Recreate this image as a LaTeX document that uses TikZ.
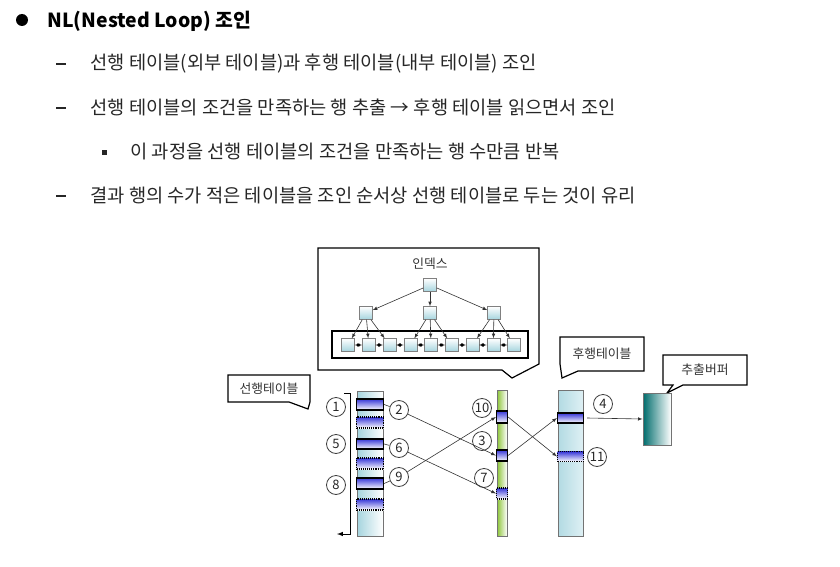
\documentclass[tikz,border=0pt]{standalone}
\usepackage{fontspec}
\setmainfont{Noto Sans CJK KR}
\definecolor{azzurro}{RGB}{165,212,222}
\definecolor{azzurrino}{RGB}{222,240,244}
\definecolor{lime}{RGB}{140,196,55}
\definecolor{blu}{RGB}{55,55,215}

\begin{document}
\begin{tikzpicture}[x=1pt,y=-1pt,
    testo/.style={anchor=base west, font=\fontsize{18.7}{22}\selectfont, text=black!85},
    etichetta/.style={font=\fontsize{12.8}{14}\selectfont, text=black!80},
    colonna/.style={draw=black!55, line width=0.8pt, inner sep=0pt},
    riga/.style={draw=black, line width=1.3pt, inner sep=0pt, top color=blu, bottom color=white},
    rigapunti/.style={draw=black, densely dotted, line width=1.1pt, inner sep=0pt, top color=blu, bottom color=white},
    num/.style={circle, draw=black!75, line width=0.8pt, inner sep=0pt, minimum size=19, font=\fontsize{13}{14}\selectfont, text=black!85},
    foglia/.style={draw=black!50, inner sep=0pt, minimum size=13, top color=white, bottom color=azzurro},
    freccia/.style={-latex, black!80, line width=0.6pt},
    fumetto/.style={draw=black, line width=1.2pt, fill=white}]
    \useasboundingbox (0,0) rectangle (840,567);
    %elenco
    \fill (22,20) circle (6);
    \node[testo, font=\bfseries\fontsize{19.4}{22}\selectfont, text=black] (titolo) at (44,28) {NL(Nested Loop) 조인};
    \foreach \y in {64,108,196} { \draw[line width=1.1pt, black!85] (56,\y) -- (66,\y); }
    \fill[black!85] (102,149.5) rectangle (107,154.5);
    \node[testo] (riga1) at (87,70) {선행 테이블(외부 테이블)과 후행 테이블(내부 테이블) 조인};
    \node[testo] (riga2) at (87,114) {선행 테이블의 조건을 만족하는 행 추출 → 후행 테이블 읽으면서 조인};
    \node[testo] (riga3) at (127,158) {이 과정을 선행 테이블의 조건을 만족하는 행 수만큼 반복};
    \node[testo] (riga4) at (87,202) {결과 행의 수가 적은 테이블을 조인 순서상 선행 테이블로 두는 것이 유리};

    %fumetti
    \draw[fumetto] (318,248) -- (539,248) -- (539,364) -- (512,378) -- (502,370) -- (318,370) -- cycle;
    \node[etichetta] (tindice) at (430,264) {인덱스};
    \draw[fumetto] (228,375) -- (310,375) -- (310,402) -- (308,409) -- (289,402) -- (228,402) -- cycle;
    \node[etichetta] (tsel) at (269,389) {선행테이블};
    \draw[fumetto] (560,337) -- (644,337) -- (644,371) -- (578,371) -- (562,378) -- (560,364) -- cycle;
    \node[etichetta] (tinn) at (602,354) {후행테이블};
    \draw[fumetto] (663,355) -- (747,355) -- (747,385) -- (683,385) -- (667,393) -- (673,385) -- (663,385) -- cycle;
    \node[etichetta] (tbuf) at (705,370) {추출버퍼};

    %albero indice
    \node[draw, line width=1.2pt, inner sep=0pt, minimum width=196, minimum height=27] (foglie) at (430,344.5) {};
    \node[foglia] (r) at (430,285) {};
    \foreach \n/\x in {1/366,2/430,3/494} {
      \node[foglia] (l\n) at (\x,313) {};
      \draw[freccia] (r) -- (l\n);
    }
    \foreach \i in {0,...,8} { \node[foglia] (k\i) at ({348+20.75*\i},345) {}; }
    \foreach \p/\c in {1/0,1/1,1/2,2/3,2/4,2/5,3/6,3/7,3/8} { \draw[freccia] (l\p) -- (k\c); }
    \foreach \i/\j in {0/1,1/2,2/3,3/4,4/5,5/6,6/7,7/8} { \draw[latex-latex, line width=0.6pt] (k\i) -- (k\j); }

    %colonne
    \node[colonna, left color=azzurro, right color=white, minimum width=26, minimum height=145] (esterna) at (370,463.5) {};
    \node[colonna, left color=lime, right color=white, minimum width=10, minimum height=146] (indice) at (502,463) {};
    \node[colonna, left color=azzurro!85, right color=azzurrino, minimum width=25, minimum height=146] (interna) at (570.5,463) {};
    \node[colonna, left color=teal!85!black, right color=white, minimum width=28, minimum height=52] (buffer) at (657,419) {};

    %righe tabella esterna
    \node[riga, minimum width=27, minimum height=11] (o1) at (370,404.5) {};
    \node[rigapunti, minimum width=27, minimum height=11] (d1) at (370,422.5) {};
    \node[riga, minimum width=27, minimum height=10] (o2) at (370,444) {};
    \node[rigapunti, minimum width=27, minimum height=11] (d2) at (370,463.5) {};
    \node[riga, minimum width=27, minimum height=11] (o3) at (370,483.5) {};
    \node[rigapunti, minimum width=27, minimum height=11] (d3) at (370,504.5) {};
    %righe indice e tabella interna
    \node[riga, minimum width=11, minimum height=12] (m1) at (502,417) {};
    \node[riga, minimum width=11, minimum height=11] (m2) at (502,455.5) {};
    \node[rigapunti, minimum width=11, minimum height=11] (m3) at (502,493.5) {};
    \node[riga, minimum width=26, minimum height=10] (i1) at (570.5,418) {};
    \node[rigapunti, minimum width=26, minimum height=10] (i2) at (570.5,456.5) {};

    %numeri
    \foreach \n/\x/\y in {1/336/407,5/336/444,8/336/485,2/399/410,6/399/448,9/399/477,10/482/408,3/482/441,7/484/478,4/603/404,11/597/457} {
      \node[num] (c\n) at (\x,\y) {\n};
    }

    %collegamenti
    \coordinate (s0) at (344,393);
    \coordinate (s1) at (350,393);
    \coordinate (s2) at (350,534);
    \coordinate (s3) at (337,534);
    \draw[-latex, line width=1pt] (s0) -- (s1) -- (s2) -- (s3);
    \draw[black!80, line width=0.6pt] (o1.east) -- (c2) (o2.east) -- (c6) (o3.east) -- (c9);
    \draw[freccia] (c2) -- (m2.west);
    \draw[freccia] (c6) -- (m3.west);
    \draw[freccia] (c9) -- (m1.west);
    \draw[freccia] (m1.east) -- (i2.west);
    \draw[freccia] (m2.east) -- (i1.west);
    \draw[freccia] ([xshift=3pt]i1.east) -- (buffer.west);
\end{tikzpicture}
\end{document}
